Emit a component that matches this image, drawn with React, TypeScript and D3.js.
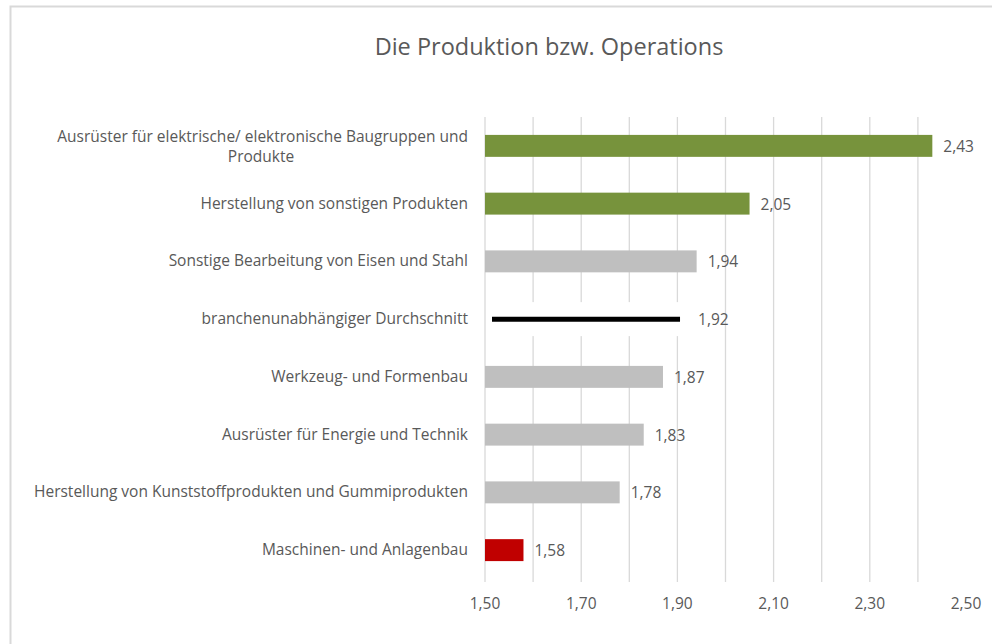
import React from "react";
import * as d3 from "d3";

const categories = [
  "Ausrüster für elektrische/ elektronische Baugruppen und|Produkte",
  "Herstellung von sonstigen Produkten",
  "Sonstige Bearbeitung von Eisen und Stahl",
  "branchenunabhängiger Durchschnitt",
  "Werkzeug- und Formenbau",
  "Ausrüster für Energie und Technik",
  "Herstellung von Kunststoffprodukten und Gummiprodukten",
  "Maschinen- und Anlagenbau",
];
const values = [2.43, 2.05, 1.94, 1.92, 1.87, 1.83, 1.78, 1.58];
const kinds = ["top", "top", "mid", "avg", "mid", "mid", "mid", "low"];
const tickLabels = [1.5, 1.7, 1.9, 2.1, 2.3, 2.5];
const gridValues = [1.5, 1.6, 1.7, 1.8, 1.9, 2.0, 2.1, 2.2, 2.3, 2.4];

const W = 992;
const H = 644;
const FONT = "'Open Sans', sans-serif";
const TXT = "#595959";
const FS = 15.5;
const colorOf: Record<string, string> = { top: "#77933c", mid: "#bfbfbf", avg: "#000000", low: "#c00000" };
const fmt = (v: number) => v.toFixed(2).replace(".", ",");

export default function App() {
  const x = d3.scaleLinear().domain([1.5, 2.5]).range([485, 966]);
  const y = d3
    .scaleBand<number>()
    .domain(d3.range(categories.length))
    .range([117, 579])
    .paddingInner(0.62)
    .paddingOuter(0.31);
  const bw = y.bandwidth();
  return (
    <svg width={W} height={H} style={{ position: "absolute", left: 0, top: 0, background: "#fff" }}>
      <path d={`M10.5,${H + 2} V6.5 H${W + 2}`} fill="none" stroke="#d9d9d9" strokeWidth={2} />
      <text x={549} y={55} textAnchor="middle" fontFamily={FONT} fontSize={23.5} fill={TXT}>
        Die Produktion bzw. Operations
      </text>
      {gridValues.map((g) => (
        <line key={g} x1={x(g)} x2={x(g)} y1={117} y2={582} stroke="#d9d9d9" strokeWidth={1.3} />
      ))}
      {tickLabels.map((t) => (
        <text key={t} x={x(t)} y={609} textAnchor="middle" fontFamily={FONT} fontSize={15.5} fill={TXT}>
          {fmt(t)}
        </text>
      ))}
      {categories.map((c, i) => {
        const cy = (y(i) as number) + bw / 2;
        const lines = c.split("|");
        const k = kinds[i];
        const v = values[i];
        return (
          <g key={i}>
            {lines.length === 1 ? (
              <text x={468} y={cy + 5} textAnchor="end" fontFamily={FONT} fontSize={FS} fill={TXT}>
                {lines[0]}
              </text>
            ) : (
              <>
                <text x={468} y={cy - 4} textAnchor="end" fontFamily={FONT} fontSize={FS} fill={TXT}>
                  {lines[0]}
                </text>
                <text x={261} y={cy + 16} textAnchor="middle" fontFamily={FONT} fontSize={FS} fill={TXT}>
                  {lines[1]}
                </text>
              </>
            )}
            {k === "avg" ? (
              <>
                <rect x={x(1.5) + 4} y={cy - 17} width={x(v) - x(1.5)} height={34} fill="#fff" />
                <line x1={x(1.5) + 7} x2={x(v) - 7} y1={cy} y2={cy} stroke="#000" strokeWidth={5} />
              </>
            ) : (
              <rect x={x(1.5)} y={y(i)} width={x(v) - x(1.5)} height={bw} fill={colorOf[k]} />
            )}
            <text x={x(v) + 11} y={cy + 6} fontFamily={FONT} fontSize={15.5} fill={TXT}>
              {fmt(v)}
            </text>
          </g>
        );
      })}
    </svg>
  );
}
